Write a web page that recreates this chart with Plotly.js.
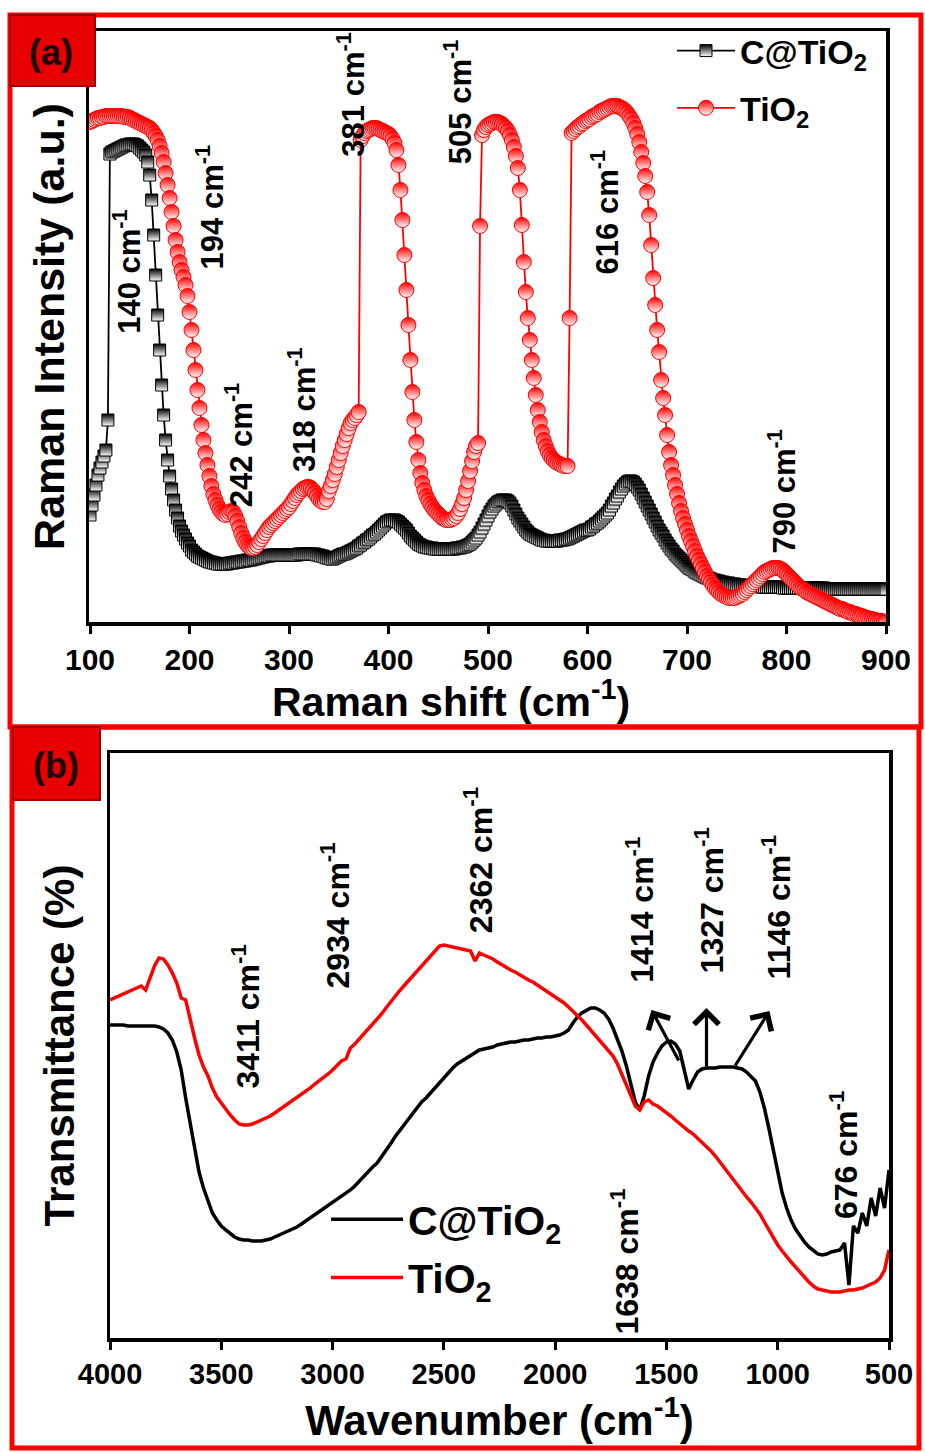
<!DOCTYPE html>
<html><head><meta charset="utf-8">
<script src="https://cdn.plot.ly/plotly-3.0.1.min.js"></script>
<style>html,body{margin:0;padding:0;background:#fff;}#chart{width:925px;height:1452px;}</style>
</head><body><div id="chart"></div>
<script>
// ---------------- DATA ----------------
const seriesNames = ['C@TiO<sub>2</sub>', 'TiO<sub>2</sub>'];

// Raman spectra, sampled every 2 cm-1 from 100 to 900 cm-1
const ramanStart = 100;
const ramanStep = 2;
const ramanCTiO2 = [
107,117,127,137,147,154,160,166,172,202,
468,470,471,472,473,474,475,476,477,477,478,478,478,477,476,474,472,470,467,460,447,
422,387,347,307,272,237,207,182,162,146,133,122,112,104,96,91,87,83,79,76,72,70,68,66,65,64,63,62,61,60,60,59,59,58,58,58,58,58,58,
59,59,59,60,60,60,61,61,61,62,62,62,63,63,64,64,65,65,66,66,66,67,67,67,67,67,67,67,67,67,
67,67,67,67,67,68,68,68,68,68,68,68,68,68,67,67,66,66,65,64,64,63,63,64,65,66,67,68,68,69,
70,71,72,73,74,76,77,79,80,82,83,85,87,88,90,92,94,96,98,100,
101,102,102,102,101,100,98,96,94,92,89,86,84,82,80,78,77,76,75,75,74,74,74,73,73,73,73,73,73,73,
73,73,73,73,74,74,74,75,75,76,77,78,80,82,84,87,90,94,98,102,
106,110,113,116,118,120,121,122,122,122,121,119,116,112,108,104,101,98,95,92,90,88,87,86,85,84,83,82,82,81,
81,81,81,81,81,81,82,82,82,83,83,84,85,86,87,88,89,90,91,92,
92,93,95,96,98,99,101,103,105,107,109,112,116,119,123,126,130,133,136,138,140,141,141,140,138,135,132,128,124,120,
116,112,108,104,100,96,92,89,86,82,79,76,73,71,68,66,64,62,60,58,
56,54,53,52,50,49,48,47,46,45,44,44,43,42,42,41,41,40,40,39,39,39,38,38,38,37,37,37,37,36,
36,36,36,36,36,36,36,35,35,35,35,35,35,35,35,35,35,35,34,34,
34,34,34,34,34,34,34,34,34,34,34,34,34,34,34,34,34,34,34,34,
33,33,33,33,33,33,33,33,33,33,33,33,33,33,33,33,33,33,33,33,33,33,33,33,33,33,33,33,33,33,33
];
const ramanTiO2 = [
500,501,502,503,504,504,505,505,506,506,506,506,506,506,506,506,506,505,505,505,504,503,502,501,500,499,498,497,496,495,
494,492,489,486,482,476,469,460,449,437,424,410,396,382,370,360,352,345,337,326,
310,292,272,252,232,214,197,182,169,157,146,136,128,122,117,113,110,108,107,108,
110,111,110,106,101,95,89,84,80,77,75,74,74,75,77,80,83,86,89,92,
95,97,99,101,103,105,107,109,111,113,115,118,121,124,127,129,131,133,134,135,
135,134,132,129,126,123,121,120,120,123,131,136,142,148,155,162,169,176,182,188,194,199,202,204,
207,210,482,486,489,491,492,493,494,494,494,493,492,491,490,489,488,486,483,479,
472,457,432,402,367,332,297,262,230,202,180,162,149,139,132,126,122,118,115,112,
110,108,106,104,103,102,102,102,103,104,106,109,113,118,124,132,141,151,161,170,176,179,
396,487,492,495,497,498,499,500,500,500,499,498,496,494,491,487,482,475,466,454,
432,397,360,330,304,282,262,244,227,212,200,190,182,176,171,167,164,162,160,159,158,157,156,156,156,
304,489,491,493,495,496,498,499,501,502,503,505,506,507,508,510,511,512,513,514,
515,516,516,516,516,515,514,513,511,509,506,503,499,494,488,480,470,459,446,430,
407,377,344,317,292,270,242,224,207,187,170,157,147,137,128,119,111,104,98,92,
86,81,76,71,66,62,58,54,50,46,43,40,37,34,32,30,28,27,26,25,
24,24,24,24,25,26,27,28,30,32,34,36,38,40,42,44,46,48,50,51,
52,53,54,54,54,54,53,52,50,48,46,44,42,40,38,36,34,33,32,30,
29,28,27,26,25,24,23,22,21,20,19,18,17,16,15,14,13,13,12,11,
10,10,9,8,8,7,6,6,5,4,4,3,3,2,2,1,1,1,0,0
];

// FTIR spectra, sampled every 20 cm-1 from 4000 down to 500 cm-1
const ftirStart = 4000;
const ftirStep = -20;
const ftirCTiO2 = [
313,313,313,313,312,312,312,312,312,312,
312,311,309,305,298,286,268,240,214,190,
166,150,137,125,118,112,108,104,101,99,
98,98,97,97,97,98,99,101,103,105,
107,109,111,114,117,120,123,126,129,132,
135,138,141,144,148,152,157,162,167,171,
175,181,187,194,201,207,213,219,225,231,
236,240,245,250,255,260,266,270,274,277,
280,283,285,288,289,290,291,293,294,295,
296,296,297,298,298,299,300,300,301,301,
302,303,305,308,315,321,325,328,330,330,
328,325,319,310,298,287,272,254,236,228,
242,262,276,285,292,296,297,294,287,268,
249,258,266,269,270,270,270,271,271,271,
271,270,269,266,262,257,246,230,210,188,
165,145,130,118,109,102,96,91,87,84,
83,84,86,87,88,95,53,112,105,125,
112,140,122,150,130,168
];
const ftirTiO2 = [
338,340,342,344,346,348,350,352,348,360,
372,380,379,373,365,355,340,338,318,300,
283,271,262,250,241,235,228,223,218,214,
213,213,214,216,218,220,222,225,228,231,
234,237,240,243,247,250,254,257,261,264,
268,272,277,279,290,294,299,304,308,313,
318,324,330,336,342,347,352,357,362,367,
372,377,382,387,392,393,392,391,390,389,
388,387,377,385,383,381,379,376,373,371,
368,366,363,361,358,356,353,351,348,345,
342,338,335,331,327,322,318,313,308,303,
298,293,288,282,274,264,254,243,232,228,
236,238,234,232,229,226,222,218,214,211,
207,204,200,196,192,187,182,176,170,164,
158,152,146,141,136,130,124,116,108,100,
93,87,81,76,71,66,60,56,52,49,
48,47,46,46,46,47,48,48,49,50,
52,54,56,60,68,88
];

const ramanTicks = [100, 200, 300, 400, 500, 600, 700, 800, 900];
const ftirTicks = [4000, 3500, 3000, 2500, 2000, 1500, 1000, 500];
const ramanPeaks = [140, 194, 242, 318, 381, 505, 616, 790];
const ftirPeaks = [3411, 2934, 2362, 1414, 1327, 1146, 676, 1638];
const panelLabels = ['(a)', '(b)'];
const ramanXTitle = 'Raman shift (cm<sup>-1</sup>)';

// ---------------- LAYOUT HELPERS ----------------
const W = 925, H = 1452;
const fx = v => v / W;
const fy = v => 1 - v / H;
const FONT = 'Liberation Sans, Arial, Helvetica, sans-serif';
const RED = '#ff0000';

// label placements (data coords of each panel), same order as the peak arrays
const ramanLabelPos = [[137, 350], [221, 415], [250, 177], [313, 212], [362, 527], [470, 520], [618, 410], [795, 130]];
const ftirLabelPos = [[3391, 321], [2987, 423], [2346, 478], [1620, 428], [1307, 438], [1006, 431], [702, 183], [1688, 76]];
// arrows: [tail wn, tail T, tip wn, tip T]
const ftirArrows = [[1441, 276, 1567, 328], [1320, 270, 1320, 330], [1195, 271, 1037, 327]];

const traces = [
  {
    type: 'scatter', mode: 'lines+markers', name: seriesNames[0], legendgroup: 'a1',
    x0: ramanStart, dx: ramanStep, y: ramanCTiO2, xaxis: 'x', yaxis: 'y', legend: 'legend',
    line: {color: '#000', width: 1.8},
    marker: {symbol: 'square', size: 12, color: '#000', gradient: {type: 'vertical', color: '#fff'}, line: {color: '#000', width: 1}}
  },
  {
    type: 'scatter', mode: 'lines+markers', name: seriesNames[1], legendgroup: 'a2',
    x0: ramanStart, dx: ramanStep, y: ramanTiO2, xaxis: 'x', yaxis: 'y', legend: 'legend',
    line: {color: RED, width: 1.8},
    marker: {symbol: 'circle', size: 15, color: RED, gradient: {type: 'vertical', color: '#fff'}, line: {color: RED, width: 1}}
  },
  {
    type: 'scatter', mode: 'lines', name: seriesNames[0], legendgroup: 'b1',
    x0: ftirStart, dx: ftirStep, y: ftirCTiO2, xaxis: 'x2', yaxis: 'y2', legend: 'legend2',
    line: {color: '#000', width: 3.5}
  },
  {
    type: 'scatter', mode: 'lines', name: seriesNames[1], legendgroup: 'b2',
    x0: ftirStart, dx: ftirStep, y: ftirTiO2, xaxis: 'x2', yaxis: 'y2', legend: 'legend2',
    line: {color: RED, width: 3.5}
  }
];

const axisCommon = {
  showgrid: false, zeroline: false, showline: true, linecolor: '#000', linewidth: 3.5, mirror: true
};

const annotations = [];
ramanPeaks.forEach((p, i) => annotations.push({
  xref: 'x', yref: 'y', x: ramanLabelPos[i][0], y: ramanLabelPos[i][1], xanchor: 'center', yanchor: 'middle',
  text: p + ' cm<sup>-1</sup>', showarrow: false, textangle: -90,
  font: {family: FONT, size: 31, color: '#000', weight: 'bold'}
}));
ftirPeaks.forEach((p, i) => annotations.push({
  xref: 'x2', yref: 'y2', x: ftirLabelPos[i][0], y: ftirLabelPos[i][1], xanchor: 'center', yanchor: 'middle',
  text: p + ' cm<sup>-1</sup>', showarrow: false, textangle: -90,
  font: {family: FONT, size: 32, color: '#000', weight: 'bold'}
}));
ftirArrows.forEach(a => annotations.push({
  xref: 'x2', yref: 'y2', axref: 'x2', ayref: 'y2', ax: a[0], ay: a[1], x: a[2], y: a[3],
  text: '', showarrow: true, arrowhead: 4, arrowsize: 1.5, arrowwidth: 3.2, arrowcolor: '#000'
}));
annotations.push({xref: 'paper', yref: 'paper', x: fx(51), y: fy(52), xanchor: 'center', yanchor: 'middle',
  text: panelLabels[0], showarrow: false, font: {family: FONT, size: 36, color: '#1a0000', weight: 'bold'}});
annotations.push({xref: 'paper', yref: 'paper', x: fx(56), y: fy(765), xanchor: 'center', yanchor: 'middle',
  text: panelLabels[1], showarrow: false, font: {family: FONT, size: 36, color: '#1a0000', weight: 'bold'}});
// x-axis title of panel (a) (sits left of the plot centre in the original)
annotations.push({xref: 'paper', yref: 'paper', x: fx(451), y: fy(699), xanchor: 'center', yanchor: 'middle',
  text: ramanXTitle, showarrow: false, font: {family: FONT, size: 41, color: '#000', weight: 'bold'}});

const shapes = [
  {type: 'rect', xref: 'paper', yref: 'paper', x0: fx(10), x1: fx(921), y0: fy(15), y1: fy(727), line: {color: RED, width: 5}, layer: 'below'},
  {type: 'rect', xref: 'paper', yref: 'paper', x0: fx(12), x1: fx(919), y0: fy(727), y1: fy(1448), line: {color: RED, width: 5}, layer: 'below'},
  {type: 'rect', xref: 'paper', yref: 'paper', x0: fx(10), x1: fx(95), y0: fy(15), y1: fy(86), fillcolor: '#e80000', line: {color: '#a00000', width: 2}, layer: 'above'},
  {type: 'rect', xref: 'paper', yref: 'paper', x0: fx(13), x1: fx(100), y0: fy(727), y1: fy(800), fillcolor: '#e80000', line: {color: '#a00000', width: 2}, layer: 'above'}
];

const layout = {
  width: W, height: H, margin: {l: 0, r: 0, t: 0, b: 0},
  paper_bgcolor: '#fff', plot_bgcolor: 'rgba(0,0,0,0)',
  font: {family: FONT, color: '#000'},
  xaxis: Object.assign({}, axisCommon, {
    domain: [fx(89), fx(886)], range: [99, 900], anchor: 'y',
    tickvals: ramanTicks, ticks: 'outside', ticklen: 8, tickwidth: 3, tickcolor: '#000',
    tickfont: {family: FONT, size: 30, weight: 'bold'}
  }),
  yaxis: Object.assign({}, axisCommon, {
    domain: [fy(622), fy(31)], range: [0, 591], anchor: 'x',
    showticklabels: false, ticks: '',
    title: {text: 'Raman Intensity (a.u.)', font: {family: FONT, size: 43, weight: 'bold'}, standoff: 8}
  }),
  xaxis2: Object.assign({}, axisCommon, {
    domain: [fx(110), fx(889)], range: [4000, 500], anchor: 'y2',
    tickvals: ftirTicks, ticks: 'outside', ticklen: 8, tickwidth: 3, tickcolor: '#000',
    tickfont: {family: FONT, size: 29, weight: 'bold'},
    title: {text: 'Wavenumber (cm<sup>-1</sup>)', font: {family: FONT, size: 42, weight: 'bold'}, standoff: 2}
  }),
  yaxis2: Object.assign({}, axisCommon, {
    domain: [fy(1338), fy(753)], range: [0, 585], anchor: 'x2',
    showticklabels: false, ticks: '',
    title: {text: 'Transmittance (%)', font: {family: FONT, size: 42, weight: 'bold'}, standoff: 20}
  }),
  legend: {
    x: fx(672), y: fy(22), xanchor: 'left', yanchor: 'top', bgcolor: 'rgba(0,0,0,0)',
    font: {family: FONT, size: 34, weight: 'bold'}, itemwidth: 58, tracegroupgap: 10
  },
  legend2: {
    x: fx(326), y: fy(1186), xanchor: 'left', yanchor: 'top', bgcolor: 'rgba(0,0,0,0)',
    font: {family: FONT, size: 41, weight: 'bold'}, itemwidth: 72, tracegroupgap: 2
  },
  showlegend: true,
  annotations: annotations,
  shapes: shapes
};

Plotly.newPlot('chart', traces, layout, {displayModeBar: false, staticPlot: true});
</script>
</body></html>
